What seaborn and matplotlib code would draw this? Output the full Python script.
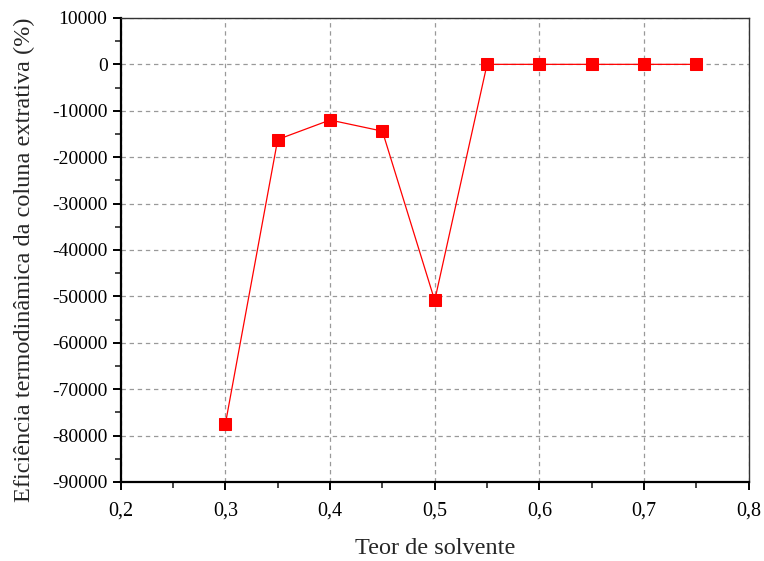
import matplotlib
matplotlib.use("Agg")
import matplotlib.pyplot as plt
from matplotlib.ticker import MultipleLocator, FuncFormatter
import seaborn as sns
import pandas as pd

# Solvent content and thermodynamic efficiency of the extractive column
teor_solvente = [0.30, 0.35, 0.40, 0.45, 0.50, 0.55, 0.60, 0.65, 0.70, 0.75]
eficiencia = [-77500, -16200, -12000, -14400, -50900, 0, 0, 0, 0, 0]

x_ticks = [0.2, 0.3, 0.4, 0.5, 0.6, 0.7, 0.8]
y_ticks = list(range(-90000, 10001, 10000))

df = pd.DataFrame({"teor": teor_solvente, "ef": eficiencia})

sns.set_style("white")
plt.rcParams["font.family"] = ["Liberation Serif", "DejaVu Serif"]

fig = plt.figure(figsize=(7.64, 5.61), dpi=100)
ax = fig.add_axes([0.158, 0.141, 0.822, 0.827])

sns.lineplot(data=df, x="teor", y="ef", ax=ax, color="#ff0000",
             linewidth=0.9, marker="s", markersize=8,
             markeredgecolor="#ff0000", markerfacecolor="#ff0000")

ax.set_xlim(0.2, 0.8)
ax.set_ylim(-90000, 10000)
ax.set_xticks(x_ticks)
ax.set_yticks(y_ticks)
ax.xaxis.set_minor_locator(MultipleLocator(0.05))
ax.yaxis.set_minor_locator(MultipleLocator(5000))
ax.xaxis.set_major_formatter(FuncFormatter(lambda v, p: f"{v:.1f}".replace(".", ",")))
ax.yaxis.set_major_formatter(FuncFormatter(lambda v, p: f"{int(round(v))}"))

ax.grid(True, which="major", color="#999999", linestyle=(0, (3.5, 3)), linewidth=0.9)
ax.set_axisbelow(True)

for side in ["left", "bottom"]:
    ax.spines[side].set_linewidth(1.6)
    ax.spines[side].set_color("black")
for side in ["top", "right"]:
    ax.spines[side].set_linewidth(1.0)
    ax.spines[side].set_color("#333333")
    ax.spines[side].set_visible(True)

ax.tick_params(axis="both", which="major", direction="out", length=6, width=1.4,
               labelsize=14, colors="black", bottom=True, left=True, top=False, right=False)
ax.tick_params(axis="x", which="major", pad=8, labelsize=14.5)
ax.tick_params(axis="both", which="minor", direction="out", length=4, width=1.2,
               bottom=True, left=True, top=False, right=False)

ax.set_xlabel("Teor de solvente", fontsize=17.5, labelpad=13)
ax.set_ylabel("Eficiência termodinâmica da coluna extrativa (%)", fontsize=17.5, labelpad=12)
ax.yaxis.label.set_y(0.478)

fig.savefig("out.png", dpi=100)
